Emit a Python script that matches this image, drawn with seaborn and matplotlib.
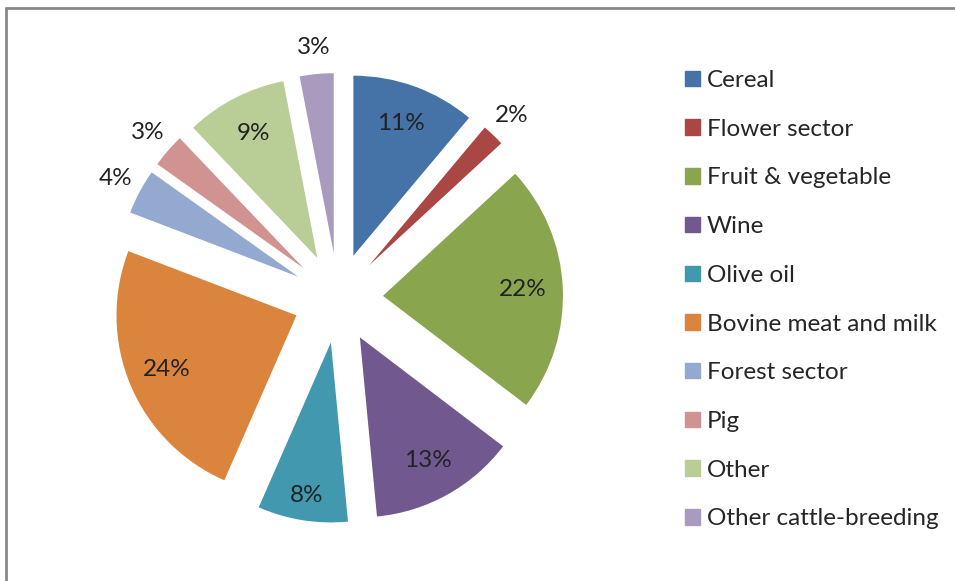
import matplotlib
matplotlib.use("Agg")
import matplotlib.pyplot as plt
import seaborn as sns
import numpy as np
from matplotlib.lines import Line2D

categories = ["Cereal", "Flower sector", "Fruit & vegetable", "Wine", "Olive oil",
              "Bovine meat and milk", "Forest sector", "Pig", "Other", "Other cattle-breeding"]
values = [11, 2, 22, 13, 8, 24, 4, 3, 9, 3]
colors = ["#4572A7", "#AA4643", "#89A54E", "#71588F", "#4198AF",
          "#DB843D", "#93A9CF", "#D19392", "#B9CD96", "#A99BBD"]

sns.set_theme(style="white")
plt.rcParams['font.family'] = ['Lato', 'DejaVu Sans']

W, H = 955, 581
fig = plt.figure(figsize=(W / 100, H / 100), dpi=100)
ax = fig.add_axes([0, 0, 1, 1])

R = 180
cx, cy = 338, H - 298
wedges, texts, autotexts = ax.pie(
    values, colors=colors, radius=R, center=(cx, cy), startangle=90,
    counterclock=False, explode=[45] * len(values),
    autopct=lambda p: f"{p:.0f}%", pctdistance=0.79,
    textprops=dict(fontsize=17.5, color="#222222"),
    wedgeprops=dict(linewidth=0))
for i, (w, t, v) in enumerate(zip(wedges, autotexts, values)):
    mid = np.deg2rad((w.theta1 + w.theta2) / 2)
    x0, y0 = w.center
    if v < 5:
        d = 1.15
    elif categories[i] == "Olive oil":
        d = 0.86
    else:
        d = 0.78
    t.set_position((x0 + d * R * np.cos(mid), y0 + d * R * np.sin(mid)))
    t.set_ha("center")
    t.set_va("center")

ax.set_xlim(0, W)
ax.set_ylim(0, H)
ax.set_aspect("equal")
ax.axis("off")

handles = [plt.Rectangle((0, 0), 1, 1, color=c) for c in colors]
fig.legend(handles, categories, loc="upper left", bbox_to_anchor=(685 / W, 1 - 70 / H),
           frameon=False, fontsize=17.5, handlelength=0.6, handleheight=0.6,
           handletextpad=0.3, labelspacing=1.14, borderaxespad=0, borderpad=0)

fig.add_artist(Line2D([6 / W, 1], [1 - 7.5 / H, 1 - 7.5 / H], color="#888888", lw=2, transform=fig.transFigure))
fig.add_artist(Line2D([6 / W, 6 / W], [0, 1 - 7.5 / H], color="#888888", lw=2, transform=fig.transFigure))

fig.savefig("out.png", dpi=100, facecolor="white")
